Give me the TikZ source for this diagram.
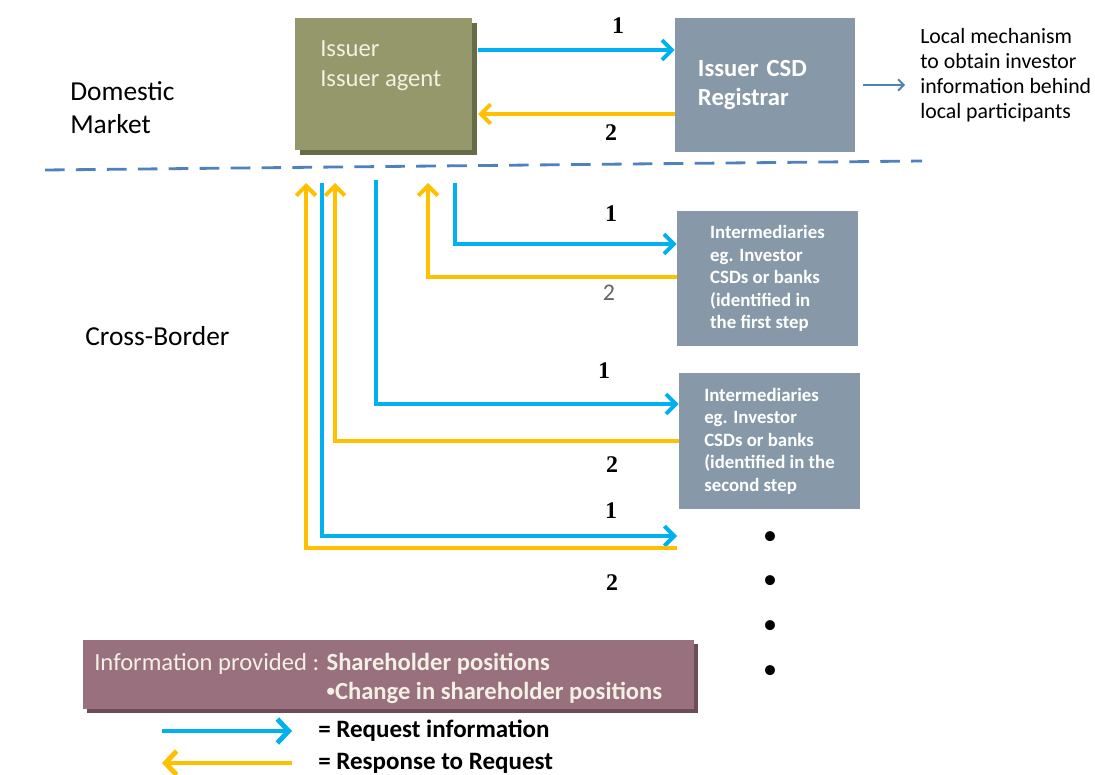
\documentclass[tikz,border=0pt]{standalone}
\usepackage{fontspec}
\setmainfont{Carlito}
\newfontfamily\numfont{Liberation Serif}
\usepackage{tikz}
\usetikzlibrary{arrows.meta,positioning,shadows}

\definecolor{issuerolive}{RGB}{149,152,106}
\definecolor{issuershade}{RGB}{104,107,72}
\definecolor{csdgray}{RGB}{135,153,168}
\definecolor{reqblue}{RGB}{0,176,240}
\definecolor{respyellow}{RGB}{255,192,0}
\definecolor{borderblue}{RGB}{79,129,189}
\definecolor{infomauve}{RGB}{152,112,126}
\definecolor{infoshade}{RGB}{108,76,88}
\definecolor{boxtext}{RGB}{243,240,228}
\definecolor{numgray}{RGB}{100,100,100}

\newcommand{\fsz}[2]{\fontsize{#1}{#2}\selectfont}

\begin{document}
\begin{tikzpicture}[x=0.025cm,y=-0.025cm,
  txt/.style={inner sep=0,anchor=west,align=left},
  num/.style={inner sep=0,font=\numfont\bfseries\fsz{17}{17}},
  req/.style={draw=reqblue,line width=2.8pt,-{Straight Barb[length=7pt,width=14pt]}},
  resp/.style={draw=respyellow,line width=2.8pt,-{Straight Barb[length=7pt,width=14pt]}},
  keyarrow/.style={line width=3.5pt,-{Straight Barb[length=8pt,width=17pt]}},
  mech/.style={draw=borderblue,line width=1.3pt,-{Straight Barb[length=4pt,width=8pt]}},
  border/.style={draw=borderblue,line width=2pt,dash pattern=on 14pt off 8pt},
  inter/.style={fill=csdgray,minimum width=4.525cm,minimum height=3.375cm,align=left,
    text=white,font=\bfseries\fsz{13.4}{16}}]
\useasboundingbox (0,0) rectangle (1095,774);

% domestic market
\node[txt,font=\fsz{19.5}{23.4}] (domestic) at (70,107.5) {Domestic\\Market};
\node[fill=issuerolive,general shadow={fill=issuershade,shadow xshift=3.5pt,shadow yshift=-3.5pt},
  minimum width=4.425cm,minimum height=3.3cm] (issuer) at (383.5,84) {};
\node[txt,text=boxtext,font=\fsz{17.5}{21.3}] (issuertxt) at (320,66) {Issuer\\Issuer agent};
\node[fill=csdgray,minimum width=4.5cm,minimum height=3.35cm,text width=3.35cm,inner xsep=0.575cm,
  align=left,text=white,font=\bfseries\fsz{17.5}{21.3}] (csd) at (765,85) {Issuer CSD\\Registrar};
\node[txt,font=\fsz{15.5}{17.7}] (local) at (920,75)
  {Local mechanism\\to obtain investor\\information behind\\local participants};
\coordinate (mechend) at (905,85);
\draw[mech] ([xshift=0.18cm]csd.east) -- (mechend);

\coordinate (a1) at (478,50);
\coordinate (a2) at (478,114);
\draw[req] (a1) -- (a1 -| csd.west);
\draw[resp] (a2 -| csd.west) -- (a2);
\node[num] (n1) at (618,26) {1};
\node[num] (n2) at (611,133) {2};

\draw[border] (45,170) -- (922,161);

% cross-border
\node[txt,font=\fsz{19.5}{23.4}] (cross) at (85,336) {Cross-Border};
\node[inter] (inter1) at (767.5,278.5)
  {Intermediaries\\eg. Investor\\CSDs or banks\\(identified in\\the first step};
\node[inter] (inter2) at (769.5,441)
  {Intermediaries\\eg. Investor\\CSDs or banks\\(identified in the\\second step};
\coordinate (more) at (677,542);

\coordinate (up1) at (455,183);
\coordinate (up2) at (428,183);
\coordinate (up3) at (376,180);
\coordinate (up4) at (335,183);
\coordinate (up5) at (322,183);
\coordinate (up6) at (306,183);

\draw[req] (up1) |- (inter1.west |- 0,244);
\draw[resp] (inter1.west |- 0,277) -| (up2);
\draw[req] (up3) |- (inter2.west |- 0,404);
\draw[resp] (inter2.west |- 0,441) -| (up4);
\draw[req] (up5) |- (more |- 0,536);
\draw[resp] (more |- 0,548) -| (up6);

\node[num] (n3) at (611,214) {1};
\node[inner sep=0,text=numgray,font=\fsz{17}{17}] (n4) at (609,293) {2};
\node[num] (n5) at (604,371) {1};
\node[num] (n6) at (612,465) {2};
\node[num] (n7) at (611,511) {1};
\node[num] (n8) at (612,583) {2};

\foreach \y [count=\i] in {538,582,627,672}
  \node[inner sep=0,font=\fsz{20}{20}] (dot\i) at (770,\y) {\textbullet};

% information box and key
\node[fill=infomauve,general shadow={fill=infoshade,shadow xshift=3pt,shadow yshift=-3pt},
  minimum width=15.275cm,minimum height=1.725cm] (info) at (388.5,674.5) {};
\node[txt,text=boxtext,font=\fsz{17.5}{20.6}] (infotxt) at (94,678.5)
  {Information provided : \textbf{Shareholder positions}\\
   \phantom{Information provided : }\textbf{\raisebox{2.2pt}{\fsz{12}{12}\textbullet}Change in shareholder positions}};

\node[txt,font=\bfseries\fsz{17.8}{17.8}] (reqkey) at (318,731) {= Request information};
\node[txt,font=\bfseries\fsz{17.8}{17.8}] (respkey) at (318,763) {= Response to Request};
\coordinate (keytail) at (162,747);
\draw[req,keyarrow] (keytail |- reqkey.west) -- ([xshift=-0.65cm]reqkey.west);
\draw[resp,keyarrow] ([xshift=-0.65cm]respkey.west) -- (keytail |- respkey.west);
\end{tikzpicture}
\end{document}
